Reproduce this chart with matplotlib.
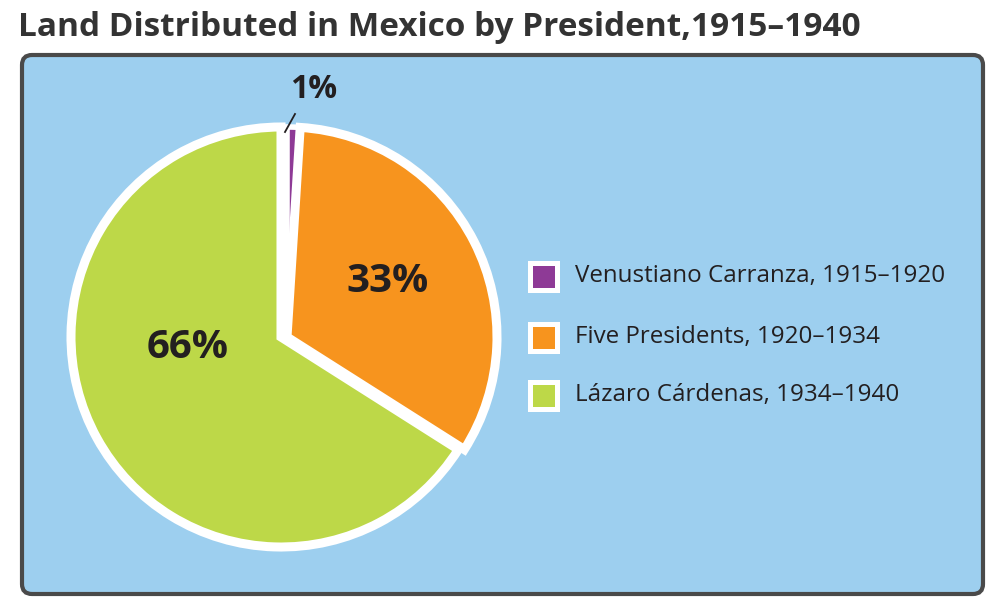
import matplotlib.pyplot as plt
from matplotlib.patches import FancyBboxPatch, Rectangle

# data
labels = ["Venustiano Carranza, 1915–1920", "Five Presidents, 1920–1934", "Lázaro Cárdenas, 1934–1940"]
shares = [1, 33, 66]
pct_labels = ["1%", "33%", "66%"]
colors = ["#8E3A96", "#F7941E", "#BDD848"]

title = "Land Distributed in Mexico by President,1915–1940"
H = 611  # figure height in px, used to flip y

plt.rcParams['font.family'] = ['Open Sans', 'DejaVu Sans']

fig = plt.figure(figsize=(10.03, 6.11), dpi=100)
ax = fig.add_axes([0, 0, 1, 1])

# blue panel with dark border
panel = FancyBboxPatch((22, H - 594), 961, 539, boxstyle="round,pad=0,rounding_size=10",
                       facecolor="#9DCFEF", edgecolor="#4A4A4A", linewidth=3, zorder=0)
ax.add_patch(panel)

cx, cy = 281, H - 337
wedges, _ = ax.pie(shares, colors=colors, startangle=90, counterclock=False,
                   center=(cx, cy), radius=210,
                   wedgeprops=dict(edgecolor="white", linewidth=6.5))
# purple + orange pulled out a little to the right
for w in wedges[:2]:
    w.set_center((cx + 6, cy))
# thinner seam on the purple sliver so it stays visible
wedges[0].set_linewidth(4)
# keep green under the white seams near the center
wedges[2].set_zorder(0.5)

ax.set_xlim(0, 1003)
ax.set_ylim(0, H)
ax.set_aspect('equal')
ax.axis('off')

# percentage labels
pct_pos = [(314, 90), (388, 281), (188, 347)]
pct_size = [23, 29, 29]
for txt, (px, py), fs in zip(pct_labels, pct_pos, pct_size):
    ax.text(px, H - py, txt, fontsize=fs, fontweight='bold', color="#231F20",
            ha='center', va='center')
ax.plot([285, 295], [H - 132, H - 114], color="#231F20", lw=1.3)

# legend
row_y = [276, 337, 395]
for lab, col, ry in zip(labels, colors, row_y):
    ax.add_patch(Rectangle((530, H - ry - 13.5), 27, 27, facecolor=col,
                           edgecolor="white", linewidth=3.6, zorder=3))
    ax.text(575, H - ry, lab, fontsize=17.4, color="#231F20", ha='left', va='center')

fig.text(18 / 1003, 1 - 28 / H, title, fontsize=24, fontweight='bold',
         color="#333333", ha='left', va='center')

fig.savefig("out.png", dpi=100)
